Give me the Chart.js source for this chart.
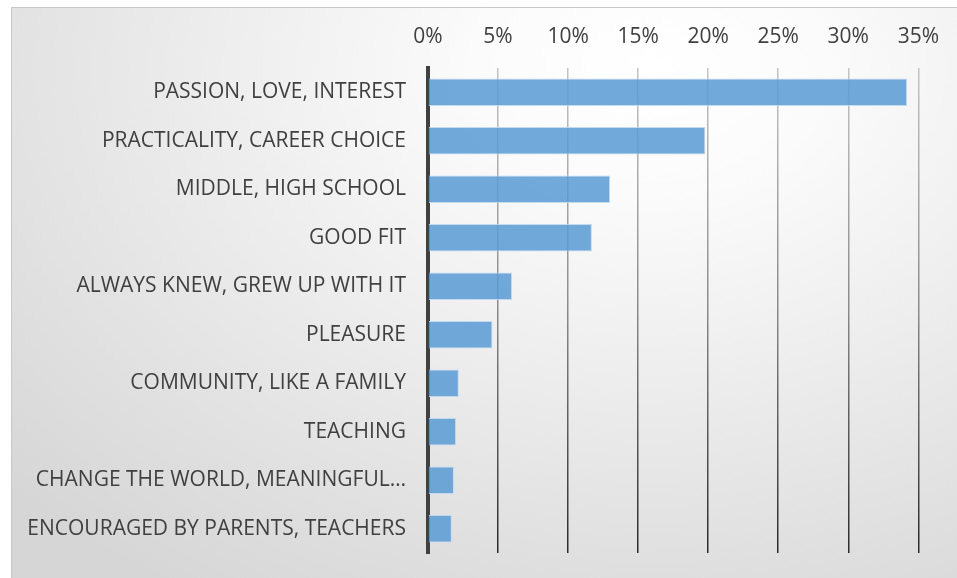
<!DOCTYPE html>
<html>
<head>
<meta charset="utf-8">
<script src="https://cdn.jsdelivr.net/npm/chart.js@4.4.1/dist/chart.umd.min.js"></script>
<style>
  html, body { margin: 0; padding: 0; background: #fff; }
</style>
</head>
<body>
<canvas id="chart" width="957" height="578"></canvas>
<script>
const categories = [
    "PASSION, LOVE, INTEREST",
    "PRACTICALITY, CAREER CHOICE",
    "MIDDLE, HIGH SCHOOL",
    "GOOD FIT",
    "ALWAYS KNEW, GREW UP WITH IT",
    "PLEASURE",
    "COMMUNITY, LIKE A FAMILY",
    "TEACHING",
    "CHANGE THE WORLD, MEANINGFUL…",
    "ENCOURAGED BY PARENTS, TEACHERS"
];
const shares = [34.2, 19.8, 13.0, 11.7, 6.0, 4.6, 2.2, 2.0, 1.85, 1.7];
const xTicks = [0, 5, 10, 15, 20, 25, 30, 35];

const FONT = "'Open Sans', Lato, sans-serif";

// background + frame
const bgPlugin = {
    id: 'bg',
    beforeDraw(chart) {
        const ctx = chart.ctx;
        ctx.save();
        ctx.fillStyle = '#ffffff';
        ctx.fillRect(0, 0, chart.width, chart.height);
        ctx.beginPath();
        ctx.rect(11, 7, chart.width - 11, chart.height - 7);
        ctx.clip();
        ctx.translate(650, 70);
        ctx.scale(1.4, 1);
        const g = ctx.createRadialGradient(0, 0, 0, 0, 0, 620);
        g.addColorStop(0, '#ffffff');
        g.addColorStop(0.2, '#fbfbfb');
        g.addColorStop(1, '#d6d6d6');
        ctx.fillStyle = g;
        ctx.fillRect(-800, -200, 1600, 1000);
        ctx.restore();
        ctx.save();
        ctx.strokeStyle = '#c8c8c8';
        ctx.lineWidth = 1;
        ctx.beginPath();
        ctx.moveTo(11.5, chart.height);
        ctx.lineTo(11.5, 7.5);
        ctx.lineTo(chart.width, 7.5);
        ctx.stroke();
        ctx.restore();
    }
};

function gridColor(context) {
    const chart = context.chart;
    const a = chart.chartArea;
    if (!a) return '#999';
    const g = chart.ctx.createLinearGradient(0, a.top, 0, a.bottom);
    g.addColorStop(0, '#c4c4c4');
    g.addColorStop(0.5, '#8a8a8a');
    g.addColorStop(1, '#2a2a2a');
    return g;
}

new Chart(document.getElementById('chart'), {
    type: 'bar',
    data: {
        labels: categories,
        datasets: [{
            data: shares,
            backgroundColor: 'rgba(91,155,213,0.86)',
            borderColor: 'rgba(189,215,238,0.9)',
            borderWidth: 1,
            borderSkipped: 'start',
            categoryPercentage: 1,
            barPercentage: 0.57
        }]
    },
    options: {
        indexAxis: 'y',
        responsive: false,
        animation: false,
        devicePixelRatio: 1,
        layout: { padding: { left: 11, top: 7, right: 35, bottom: 25 } },
        plugins: { legend: { display: false }, tooltip: { enabled: false } },
        scales: {
            x: {
                position: 'top',
                min: 0,
                max: 35,
                afterBuildTicks(scale) { scale.ticks = xTicks.map(v => ({ value: v })); },
                afterFit(scale) { scale.height = 61; },
                ticks: {
                    padding: 18,
                    color: '#404040',
                    font: { family: FONT, size: 21 },
                    callback: v => v + '%'
                },
                grid: { color: gridColor, lineWidth: 1.5, drawTicks: false },
                border: { display: false }
            },
            y: {
                afterFit(scale) {
                    scale.width = 417;
                    scale.paddingTop = 0;
                    scale.paddingBottom = 0;
                },
                ticks: {
                    padding: 22,
                    color: '#404040',
                    font: { family: FONT, size: 21 }
                },
                grid: { display: false, drawTicks: false },
                border: { display: true, color: '#404040', width: 4 }
            }
        }
    },
    plugins: [bgPlugin]
});
</script>
</body>
</html>
